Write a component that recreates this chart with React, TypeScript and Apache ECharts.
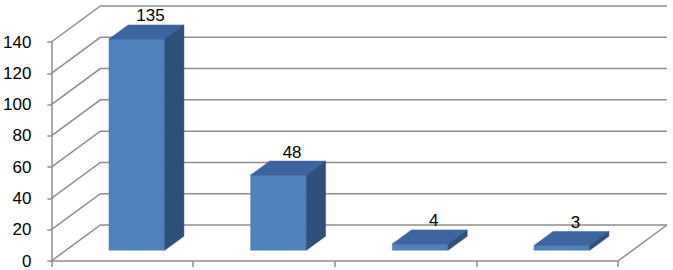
import React, { useEffect, useRef } from "react";
import * as echarts from "echarts";

const categories = ["1", "2", "3", "4"];
const values = [135, 48, 4, 3];
const gridValues = [0, 20, 40, 60, 80, 100, 120, 140];

const DX = 49;
const DY = -36;
const D0 = 0.3;
const D1 = 0.69;
const BAR_FRAC = 0.394;
const GRID_COLOR = "#8e8e8e";
const FONT = "Liberation Sans";

export default function App() {
  const ref = useRef<HTMLDivElement>(null);
  useEffect(() => {
    const chart = echarts.init(ref.current!, null, { renderer: "svg" });
    chart.setOption({
      animation: false,
      backgroundColor: "#ffffff",
      grid: { left: 50, right: 55, top: 42, bottom: 9 },
      xAxis: {
        type: "category",
        data: categories,
        boundaryGap: true,
        axisLine: { show: true, lineStyle: { color: GRID_COLOR, width: 1.5 } },
        axisTick: { show: true, length: 6, lineStyle: { color: GRID_COLOR, width: 1.5 } },
        axisLabel: { show: false },
        splitLine: { show: false },
      },
      yAxis: {
        type: "value",
        min: 0,
        max: 140,
        interval: 20,
        axisLine: { show: true, lineStyle: { color: GRID_COLOR, width: 1.5 } },
        axisTick: { show: true, length: 4, lineStyle: { color: GRID_COLOR, width: 1.5 } },
        axisLabel: { color: "#000", fontSize: 17, fontFamily: FONT, margin: 20 },
        splitLine: { show: false },
      },
      series: [
        {
          type: "custom",
          silent: true,
          z: 1,
          data: gridValues.map((v) => [0, v]),
          renderItem: (params: any, api: any) => {
            const cs = params.coordSys;
            const x0 = cs.x;
            const x1 = cs.x + cs.width;
            const y = api.coord([0, api.value(1)])[1];
            const children: any[] = [
              {
                type: "polyline",
                shape: { points: [[x0, y], [x0 + DX, y + DY], [x1 + DX, y + DY]] },
                style: { stroke: GRID_COLOR, lineWidth: 1.5, fill: null },
              },
            ];
            if (api.value(1) === 0) {
              children.push({
                type: "line",
                shape: { x1: x1, y1: y, x2: x1 + DX, y2: y + DY },
                style: { stroke: GRID_COLOR, lineWidth: 1.5 },
              });
            }
            return { type: "group", children };
          },
        },
        {
          type: "custom",
          z: 3,
          data: values.map((v, i) => [i, v]),
          renderItem: (params: any, api: any) => {
            const idx = api.value(0);
            const val = api.value(1);
            const [cx, y0] = api.coord([idx, 0]);
            const yv = api.coord([idx, val])[1];
            const bandW = api.size([1, 0])[0];
            const w = bandW * BAR_FRAC;
            const fx = cx - w / 2 + DX * D0;
            const fy0 = y0 + DY * D0;
            const fyv = yv + DY * D0;
            const ddx = DX * (D1 - D0);
            const ddy = DY * (D1 - D0);
            return {
              type: "group",
              children: [
                {
                  type: "polygon",
                  shape: { points: [[fx, fyv], [fx + w, fyv], [fx + w, fy0], [fx, fy0]] },
                  style: { fill: "#4f81bd", stroke: "#4a7ab4", lineWidth: 0.5 },
                },
                {
                  type: "polygon",
                  shape: { points: [[fx, fyv], [fx + ddx, fyv + ddy], [fx + w + ddx, fyv + ddy], [fx + w, fyv]] },
                  style: { fill: "#3d65a0", stroke: "#3a609a", lineWidth: 0.5 },
                },
                {
                  type: "polygon",
                  shape: { points: [[fx + w, fyv], [fx + w + ddx, fyv + ddy], [fx + w + ddx, fy0 + ddy], [fx + w, fy0]] },
                  style: { fill: "#2f5079", stroke: "#2d4c74", lineWidth: 0.5 },
                },
                {
                  type: "text",
                  style: {
                    x: fx + (w + ddx) / 2 + 4,
                    y: fyv + ddy - 9,
                    text: String(val),
                    fill: "#000",
                    font: `17px "${FONT}"`,
                    align: "center",
                    verticalAlign: "middle",
                  },
                },
              ],
            };
          },
        },
      ],
    });
    return () => chart.dispose();
  }, []);
  return (
    <div
      ref={ref}
      style={{ position: "fixed", left: 0, top: 0, width: 673, height: 270 }}
    />
  );
}
